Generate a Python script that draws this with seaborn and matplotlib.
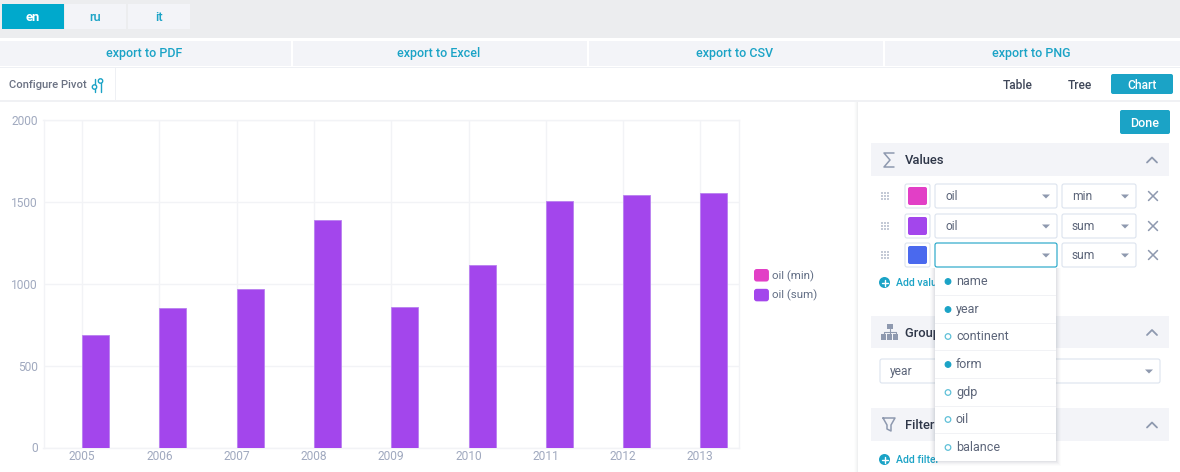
import matplotlib
matplotlib.use("Agg")
import matplotlib.pyplot as plt
import pandas as pd
import seaborn as sns
from matplotlib.legend_handler import HandlerPatch
from matplotlib.patches import FancyBboxPatch, Rectangle, Circle, Polygon, Patch

years = [2005, 2006, 2007, 2008, 2009, 2010, 2011, 2012, 2013]
oil_min = [0, 0, 0, 0, 0, 0, 0, 0, 0]
oil_sum = [688, 856, 969, 1391, 859, 1116, 1507, 1544, 1556]
series_names = ["oil (min)", "oil (sum)"]
series_colors = ["#E23FC6", "#A346EC"]
y_ticks = [0, 500, 1000, 1500, 2000]
tabs = ["en", "ru", "it"]
exports = ["export to PDF", "export to Excel", "export to CSV", "export to PNG"]
views = ["Table", "Tree"]
fields = ["name", "year", "continent", "form", "gdp", "oil", "balance"]
field_used = [True, True, False, True, False, False, False]

W, H = 1180, 472
sns.set_theme(style="white")
plt.rcParams["font.family"] = ["Roboto", "DejaVu Sans"]
fig = plt.figure(figsize=(W / 100, H / 100), dpi=100, facecolor="white")


def px(s):
    return s * 0.72


class RoundSwatch(HandlerPatch):
    def create_artists(self, legend, orig, xd, yd, width, height, fontsize, trans):
        r = 2.0
        p = FancyBboxPatch((-xd + r, -yd + r), width - 2 * r, height - 2 * r,
                           boxstyle=f"round,pad={r},rounding_size={r}",
                           facecolor=orig.get_facecolor(), edgecolor="none",
                           transform=trans)
        return [p]


# ---- chart ----
ax = fig.add_axes([43.5 / W, 1 - 447.5 / H, 695.5 / W, 327 / H])
df = pd.DataFrame({
    "year": years * 2,
    "value": oil_min + oil_sum,
    "series": [series_names[0]] * len(years) + [series_names[1]] * len(years),
})
sns.barplot(data=df, x="year", y="value", hue="series", hue_order=series_names,
            palette=series_colors, width=0.7, gap=0, saturation=1, ax=ax,
            legend=False, zorder=3, edgecolor="#B980F0", linewidth=0.6)
ax.set_ylim(0, 2000)
ax.set_xlim(-0.5, len(years) - 0.5)
ax.set_yticks(y_ticks)
ax.set_xlabel("")
ax.set_ylabel("")
ax.grid(True, color="#F2F3F6", linewidth=1)
ax.set_axisbelow(True)
for s in ax.spines.values():
    s.set_color("#F2F3F6")
    s.set_linewidth(1)
ax.tick_params(axis="both", length=0, labelcolor="#A0A9BF", labelsize=px(12))
ax.tick_params(axis="x", pad=2)
ax.tick_params(axis="y", pad=4)
leg_handles = [Patch(facecolor=c, edgecolor="none") for c in series_colors]
ax.legend(leg_handles, series_names, loc="upper left", frameon=False,
          bbox_to_anchor=(754 / W, 1 - 269 / H), bbox_transform=fig.transFigure,
          handlelength=1.3, handleheight=1.3, handletextpad=0.28, labelspacing=0.62,
          borderpad=0, borderaxespad=0, prop={"size": px(11.5)}, labelcolor="#626E85",
          handler_map={Patch: RoundSwatch()})

# ---- interface chrome ----
ui = fig.add_axes([0, 0, 1, 1], zorder=5)
ui.set_xlim(0, W)
ui.set_ylim(H, 0)
ui.axis("off")
ui.patch.set_alpha(0)

TEAL = "#1BA3C6"
PANEL = "#F3F4F8"
BORDER = "#DCE3EE"
TXT = "#5C6579"
ICON = "#8E99AF"


def rect(x0, y0, x1, y1, fc, ec="none", lw=0, z=1, alpha=None):
    ui.add_patch(Rectangle((x0, y0), x1 - x0, y1 - y0, facecolor=fc, edgecolor=ec,
                           linewidth=lw, zorder=z, alpha=alpha))


def rbox(x0, y0, x1, y1, fc, ec="none", lw=0.8, z=2, r=2):
    ui.add_patch(FancyBboxPatch((x0 + r, y0 + r), x1 - x0 - 2 * r, y1 - y0 - 2 * r,
                                boxstyle=f"round,pad={r},rounding_size={r}",
                                facecolor=fc, edgecolor=ec, linewidth=lw, zorder=z))


def label(x, y, s, c=TXT, size=12, ha="center", weight="normal", z=6):
    ui.text(x, y - 0.8, s, color=c, fontsize=px(size), ha=ha, va="center_baseline",
            fontweight=weight, zorder=z)


def caret(x, y, z=4):
    ui.add_patch(Polygon([(x - 4, y - 2), (x + 4, y - 2), (x, y + 2)], closed=True,
                         facecolor="#8E99AF", edgecolor="none", zorder=z))


def chevron(x, y):
    ui.plot([x - 5, x, x + 5], [y + 3, y - 2, y + 3], color=ICON, lw=1.3, zorder=4)


def select(x0, y0, x1, y1, s, ec=BORDER, z=3):
    rbox(x0, y0, x1, y1, "white", ec=ec, z=z)
    if s:
        label(x0 + 10, (y0 + y1) / 2, s, ha="left", size=12)
    caret(x1 - 11, (y0 + y1) / 2 + 0.5, z=z + 1)


# top bars
rect(0, 0, W, 38, "#ECEDEF")
tab_x = [(2, 64), (65, 126), (128, 190)]
for i, (t, (a, b)) in enumerate(zip(tabs, tab_x)):
    rect(a, 4, b, 29, "#00A9CC" if i == 0 else PANEL, z=2)
    label((a + b) / 2, 17, t, c="white" if i == 0 else TEAL, size=13, weight="bold" if i == 0 else 500)
exp_x = [(0, 291), (293, 587), (589, 883), (885, W)]
for t, (a, b) in zip(exports, exp_x):
    rect(a, 41, b, 66, PANEL, z=2)
    label((a + b) / 2 - 1, 53, t, c=TEAL, size=12.5, weight=500)
rect(0, 66.5, W, 68, "#EEF0F4")
rect(0, 100, W, 102, "#F0F1F4")
rect(115, 68, 116, 100, "#EEF0F4")
label(9, 84.5, "Configure Pivot", ha="left", size=11.3, c="#6B7283", weight=500)
for x, yc in [(94.5, 87), (100.5, 81)]:
    ui.plot([x, x], [79, 92], color=TEAL, lw=1, zorder=4)
    ui.add_patch(Circle((x, yc), 2.2, facecolor="white", edgecolor=TEAL, lw=1, zorder=5))
for t, x in zip(views, [1018, 1080]):
    label(x, 84.5, t, c="#3F4759", size=12, weight=500)
rbox(1111, 74, 1173, 94, TEAL)
label(1142.5, 84.5, "Chart", c="white", size=12, weight=500)

# side panel with shadow
for i, a in enumerate([0.012, 0.018, 0.025, 0.035]):
    rect(854 + i, 102, 858, H, "#5A6478", z=1, alpha=a)
rect(858, 102, W, H, "white", z=1.5)
rbox(1120, 110, 1170, 134, TEAL)
label(1145, 122.5, "Done", c="white", size=12.5, weight=500)

# section headers
for y0, y1, t, x in [(143, 176, "Values", 905), (316, 348, "Group By", 905), (408, 441, "Filters", 905)]:
    rect(871, y0, 1169, y1, PANEL, z=2)
    label(x, (y0 + y1) / 2 + 0.5, t, c="#2E3648", size=13, ha="left", z=3, weight=500)
    chevron(1152, (y0 + y1) / 2)
# sigma icon
ui.plot([894, 884, 890, 884, 894], [153, 153, 160, 167, 167], color=ICON, lw=1.1, zorder=4)
# hierarchy icon
rect(887, 324, 892.5, 329, ICON, z=4)
for x in (881, 887, 893):
    rect(x, 334, x + 5, 340, ICON, z=4)
ui.plot([884, 884, 895.5, 895.5], [334, 331.5, 331.5, 334], color=ICON, lw=0.8, zorder=4)
ui.plot([889.5, 889.5], [329, 334], color=ICON, lw=0.8, zorder=4)
# funnel icon
ui.plot([883, 895, 891, 891, 887, 887, 883], [418, 418, 425, 431, 429, 425, 418],
        color=ICON, lw=1.1, zorder=4)

# value rows
rows = [(184, 208, series_colors[0], "oil", "min"),
        (214, 238, series_colors[1], "oil", "sum"),
        (243, 267, "#4A69EE", "", "sum")]
for y0, y1, col, f, agg in rows:
    yc = (y0 + y1) / 2
    for dx in (0, 3, 6):
        for dy in (-4, -1, 2):
            rect(881 + dx, yc + dy, 883 + dx, yc + dy + 2, "#C4CAD6", z=3)
    rbox(905, y0, 930, y1, "white", ec=BORDER)
    rbox(908, y0 + 3, 927, y1 - 3, col, z=3)
    select(935, y0, 1057, y1, f, ec=TEAL if not f else BORDER)
    select(1062, y0, 1136, y1, agg)
    ui.plot([1148.5, 1157.5], [yc - 4.5, yc + 4.5], color=ICON, lw=1.1, zorder=4)
    ui.plot([1148.5, 1157.5], [yc + 4.5, yc - 4.5], color=ICON, lw=1.1, zorder=4)


def add_link(y, s):
    ui.add_patch(Circle((884.5, y), 5.5, facecolor=TEAL, edgecolor="none", zorder=3))
    ui.plot([881.5, 887.5], [y, y], color="white", lw=1, zorder=4)
    ui.plot([884.5, 884.5], [y - 3, y + 3], color="white", lw=1, zorder=4)
    label(896, y, s, c=TEAL, size=10.5, ha="left", z=4, weight=500)


add_link(282.5, "Add value")
add_link(459.5, "Add filter")

# group by select
rbox(880, 359, 1160, 383, "white", ec=BORDER)
label(890, 371, "year", ha="left", size=12)
caret(1149, 371.5)

# dropdown with shadow
for i, a in zip(range(5, 0, -1), [0.015, 0.02, 0.03, 0.04, 0.05]):
    rect(935 - i, 268, 1056 + i, 461 + i, "#4A5468", z=4.2, alpha=a)
rect(935, 268, 1056, 461, "white", z=4.5)
item_y = [281, 309, 336, 364, 392, 419, 447]
for y in item_y[:-1]:
    rect(935, y + 13.5, 1056, y + 14.5, "#F1F2F5", z=4.6)
for y, f, used in zip(item_y, fields, field_used):
    ui.add_patch(Circle((948, y + 0.5), 2.8, facecolor=TEAL if used else "white",
                        edgecolor=TEAL if used else "#5FC0D8", lw=0.9, zorder=5))
    label(956, y, f, ha="left", size=12.5)

fig.savefig("out.png", dpi=100, facecolor="white")
